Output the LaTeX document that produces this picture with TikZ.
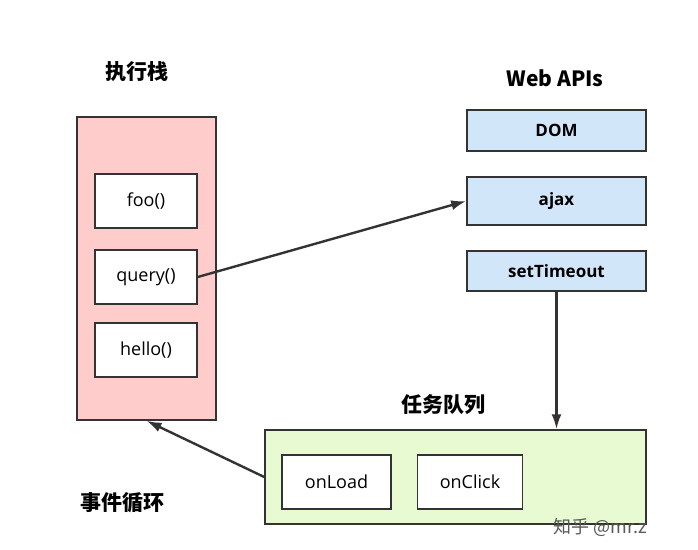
\documentclass[tikz,border=0pt]{standalone}
\usepackage{fontspec}
\setmainfont{Open Sans}
\newfontfamily\cjk{Noto Sans CJK SC}[BoldFont={Noto Sans CJK SC Black}]
\usetikzlibrary{arrows.meta,positioning}
\definecolor{stackpink}{HTML}{FFCCCC}
\definecolor{apiblue}{HTML}{D2E6FA}
\definecolor{queuegreen}{HTML}{E8FAD2}
\definecolor{edge}{HTML}{333333}

\begin{document}
\begin{tikzpicture}[
		x=1pt, y=-1pt,
		node distance=20pt,
		frame/.style={draw=edge, line width=1.5pt, inner sep=0pt},
		call/.style={frame, fill=white, minimum width=102pt, minimum height=54pt, font=\fontsize{18}{21}\selectfont},
		api/.style={frame, fill=apiblue, minimum width=179pt, font=\fontsize{17}{20}\selectfont\bfseries},
		title/.style={font=\fontsize{21}{25}\selectfont\cjk\bfseries},
		flow/.style={-{Latex[length=15pt,width=10pt]}, line width=2.4pt, draw=edge},
	]
		\useasboundingbox (0,0) rectangle (698,549);
		
		% execution stack
		\node[frame, fill=stackpink, minimum width=139pt, minimum height=303pt] (stack) at (146.5,268.5) {};
		\node[title] (stacktitle) at (137,72) {执行栈};
		\node[call] (foo) at (146,201) {foo()};
		\node[call] (query) at (146,277) {query()};
		\node[call] (hello) at (146,350) {hello()};
		
		% web apis
		\node[title] (apititle) at (555,78) {Web APIs};
		\node[api, minimum height=41pt] (dom) at (556.5,130.5) {DOM};
		\node[api, minimum height=48pt] (ajax) at (556.5,201) {ajax};
		\node[api, minimum height=40pt] (timer) at (556.5,271) {setTimeout};
		
		% task queue
		\node[frame, fill=queuegreen, minimum width=381pt, minimum height=94pt] (queue) at (455.5,477) {};
		\node[title] (queuetitle) at (443,405) {任务队列};
		\node[call, minimum width=109pt] (onload) at (336.5,482) {onLoad};
		\node[call, minimum width=105pt, right=25pt of onload] (onclick) {onClick};
		
		\node[title] (looptitle) at (122,503) {事件循环};
		\node[font=\fontsize{18}{21}\selectfont\cjk, text=black!65] (mark) at (600,527) {知乎 @mr.z};
		
		\draw[flow] (query.east) -- (ajax.west);
		\draw[flow] (timer.south) -- (timer.south|-queue.north);
		\draw[flow] (queue.west) -- (stack.south);
	\end{tikzpicture}
\end{document}
